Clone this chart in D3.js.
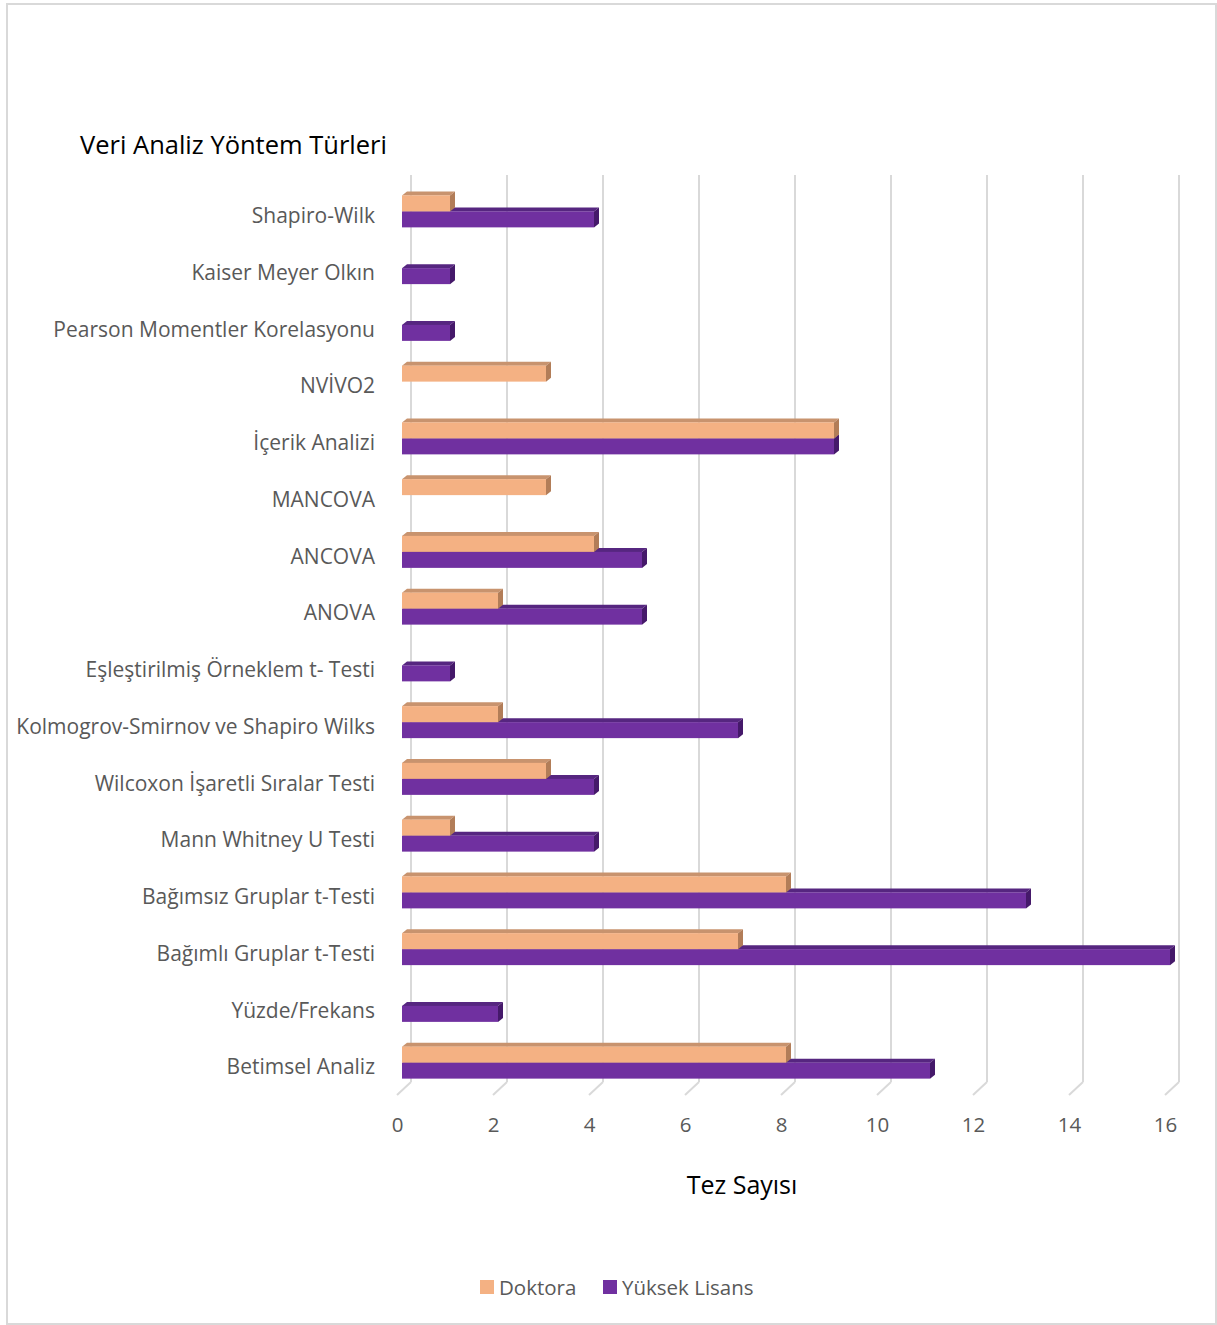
<!DOCTYPE html>
<html><head><meta charset="utf-8">
<script src="https://cdn.jsdelivr.net/npm/d3@7/dist/d3.min.js"></script>
<style>body{margin:0;background:#fff}svg{display:block}</style>
</head><body>
<script>
const categories = ["Shapiro-Wilk","Kaiser Meyer Olkın","Pearson Momentler Korelasyonu","NVİVO2","İçerik Analizi","MANCOVA","ANCOVA","ANOVA","Eşleştirilmiş Örneklem t- Testi","Kolmogrov-Smirnov ve Shapiro Wilks","Wilcoxon İşaretli Sıralar Testi","Mann Whitney U Testi","Bağımsız Gruplar t-Testi","Bağımlı Gruplar t-Testi","Yüzde/Frekans","Betimsel Analiz"];
const doktora = [1,0,0,3,9,3,4,2,0,2,3,1,8,7,0,8];
const yuksekLisans = [4,1,1,0,9,0,5,5,1,7,4,4,13,16,2,11];
const ticks = [0,2,4,6,8,10,12,14,16];
const seriesNames = ["Doktora","Yüksek Lisans"];

const W=1217,H=1325;
const svg=d3.select("body").append("svg").attr("width",W).attr("height",H);
const font="'Open Sans', sans-serif";
svg.append("rect").attr("x",7).attr("y",4).attr("width",1209).attr("height",1320).attr("fill","#fff").attr("stroke","#D9D9D9").attr("stroke-width",2);

const x=d3.scaleLinear().domain([0,16]).range([402,1170]);
const y=d3.scaleBand().domain(categories).range([183,1091]);
const gridTop=175, backY=1082, frontY=1095, bdx=9, fdx=-5;

// gridlines (back wall + floor)
const g=svg.append("g");
ticks.forEach(t=>{
  g.append("line").attr("x1",x(t)+bdx).attr("x2",x(t)+bdx).attr("y1",gridTop).attr("y2",backY).attr("stroke","#D9D9D9").attr("stroke-width",2);
  g.append("line").attr("x1",x(t)+bdx).attr("x2",x(t)+fdx).attr("y1",backY).attr("y2",frontY).attr("stroke","#D9D9D9").attr("stroke-width",2);
});
// tick labels via axis
const xa=d3.axisBottom(d3.scaleLinear().domain([0,16]).range([x(0)+fdx,x(16)+fdx])).tickValues(ticks).tickSize(0).tickPadding(0);
const axG=svg.append("g").attr("transform","translate(0,1117)").call(xa);
axG.select(".domain").remove();
axG.selectAll("text").attr("font-family",font).attr("font-size",20.5).attr("fill","#595959").attr("dy","0.71em");

// bars
const bh=16, dx=5, dy=4;
const cols=[{front:"#F4B183",top:"#C8936E",side:"#B27D58"},{front:"#7030A0",top:"#562680",side:"#45196A"}];
function bar(sel,v,yt,c){
  if(!v) return;
  const x0=x(0),x1=x(v);
  sel.append("polygon").attr("points",`${x0},${yt} ${x0+dx},${yt-dy} ${x1+dx},${yt-dy} ${x1},${yt}`).attr("fill",c.top);
  sel.append("polygon").attr("points",`${x1},${yt} ${x1+dx},${yt-dy} ${x1+dx},${yt+bh-dy} ${x1},${yt+bh}`).attr("fill",c.side);
  sel.append("rect").attr("x",x0).attr("y",yt).attr("width",x1-x0).attr("height",bh).attr("fill",c.front);
}
const bars=svg.append("g");
categories.forEach((cat,i)=>{
  const cy=y(cat)+y.bandwidth()/2;
  bar(bars,yuksekLisans[i],cy,cols[1]);
  bar(bars,doktora[i],cy-bh,cols[0]);
});

// category labels via axis
const ya=d3.axisLeft(y).tickSize(0).tickPadding(0);
const yG=svg.append("g").attr("transform","translate(375,5)").call(ya);
yG.select(".domain").remove();
yG.selectAll("text").attr("font-family",font).attr("font-size",21).attr("fill","#595959");

// titles
svg.append("text").attr("x",80).attr("y",154).attr("font-family",font).attr("font-size",25.5).attr("fill","#000").text("Veri Analiz Yöntem Türleri");
svg.append("text").attr("x",742).attr("y",1194).attr("text-anchor","middle").attr("font-family",font).attr("font-size",25).attr("fill","#000").text("Tez Sayısı");

// legend
const lg=svg.append("g");
const lx=[480,603];
seriesNames.forEach((n,i)=>{
  lg.append("rect").attr("x",lx[i]).attr("y",1280).attr("width",14).attr("height",14).attr("fill",cols[i].front);
  lg.append("text").attr("x",lx[i]+19).attr("y",1295).attr("font-family",font).attr("font-size",20.5).attr("fill","#595959").text(n);
});
</script>
</body></html>
